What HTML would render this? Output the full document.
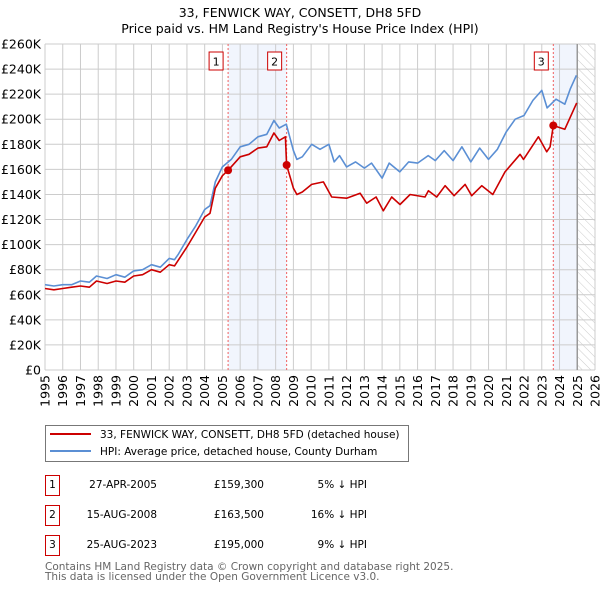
<!DOCTYPE html>
<html><head><meta charset="utf-8"><style>
body{margin:0;background:#fff;font-family:"DejaVu Sans","Liberation Sans",sans-serif;}
#wrap{position:relative;width:600px;height:590px;overflow:hidden}
svg text{font-family:"DejaVu Sans","Liberation Sans",sans-serif}
</style></head><body><div id="wrap">
<svg id="c" width="600" height="590"></svg>
</div>
<script>
const hpiYears=[1995,1995.5,1996,1996.5,1997,1997.5,1997.9,1998.5,1999,1999.5,2000,2000.5,2001,2001.5,2002,2002.3,2002.5,2003,2003.5,2004,2004.3,2004.6,2005,2005.5,2006,2006.5,2007,2007.5,2007.9,2008.2,2008.6,2009,2009.2,2009.5,2010.03,2010.5,2011,2011.3,2011.6,2012,2012.5,2013,2013.4,2014,2014.4,2015,2015.5,2016,2016.6,2017,2017.5,2018,2018.5,2019,2019.5,2020,2020.5,2021,2021.5,2022,2022.5,2023,2023.3,2023.8,2024.3,2024.6,2024.95];
const hpiValues=[68,67,68,68,71,70,75,73,76,74,79,80,84,82,89,88,92,104,115,128,131,150,162,168,178,180,186,188,199,193,196,175,168,170,180,176,180,166,171,162,166,161,165,153,165,158,166,165,171,167,175,167,178,166,177,168,176,190,200,203,215,223,209,216,212,224,235];
const priceYears=[1995,1995.5,1996,1996.5,1997,1997.5,1997.9,1998.5,1999,1999.5,2000,2000.5,2001,2001.5,2002,2002.3,2003,2003.5,2004,2004.3,2004.6,2005,2005.32,2006,2006.5,2007,2007.5,2007.9,2008.2,2008.55,2008.62,2009,2009.2,2009.5,2010.03,2010.69,2011.16,2012.0,2012.76,2013.13,2013.66,2014.07,2014.54,2015.01,2015.58,2016.42,2016.61,2017.08,2017.55,2018.06,2018.68,2019.05,2019.62,2020.24,2020.93,2021.78,2021.97,2022.81,2023.28,2023.47,2023.65,2024.3,2024.97];
const priceValues=[65,64,65,66,67,66,71,69,71,70,75,76,80,78,84,83,98,110,122,125,145,155,159.3,170,172,177,178,189,183,186,163.5,145,140,142,148,150,138,137,141,133,138,127,138,132,140,138,143,138,147,139,148,139,147,140,158,172,168,186,174,178,195,192,213];
const saleYears=[2005.32,2008.62,2023.65];
const saleValues=[159.3,163.5,195];
const saleLabels=["1","2","3"];
const yTicks=[0,20,40,60,80,100,120,140,160,180,200,220,240,260];
const xTicks=[1995,1996,1997,1998,1999,2000,2001,2002,2003,2004,2005,2006,2007,2008,2009,2010,2011,2012,2013,2014,2015,2016,2017,2018,2019,2020,2021,2022,2023,2024,2025,2026];
const tableDates=["27-APR-2005","15-AUG-2008","25-AUG-2023"];
const tablePrices=["£159,300","£163,500","£195,000"];
const tableHpi=["5% ↓ HPI","16% ↓ HPI","9% ↓ HPI"];

const L=45,R=595,T=44,B=370,X0=1995,X1=2026,YM=260;
const sx=v=>L+(v-X0)/(X1-X0)*(R-L);
const sy=v=>B-v/YM*(B-T);
const NS="http://www.w3.org/2000/svg";
const svg=document.getElementById('c');
function mk(tag,at,parent){const e=document.createElementNS(NS,tag);for(const k in at)e.setAttribute(k,at[k]);(parent||svg).appendChild(e);return e;}
const defs=mk('defs',{});
const pat=mk('pattern',{id:'hatch',width:6,height:6,patternUnits:'userSpaceOnUse',patternTransform:'rotate(-45)'},defs);
mk('line',{x1:0,y1:0,x2:0,y2:6,stroke:'#ccc','stroke-width':1},pat);

let e;
e=mk('text',{x:300,y:17,'text-anchor':'middle','font-size':12.5,fill:'#000'});e.textContent='33, FENWICK WAY, CONSETT, DH8 5FD';


e=mk('text',{x:300,y:33,'text-anchor':'middle','font-size':12.5,fill:'#000'});e.textContent="Price paid vs. HM Land Registry's House Price Index (HPI)";



e=mk('rect',{x:sx(saleYears[0]),y:T,width:sx(saleYears[1])-sx(saleYears[0]),height:B-T,fill:'#eef3fc',opacity:0.8});


e=mk('rect',{x:sx(saleYears[2]),y:T,width:sx(2025)-sx(saleYears[2]),height:B-T,fill:'#eef3fc',opacity:0.8});


e=mk('rect',{x:sx(2025),y:T,width:R-sx(2025),height:B-T,fill:'url(#hatch)'});



yTicks.forEach(v=>{
 e=mk('line',{x1:L,x2:R,y1:sy(v),y2:sy(v),stroke:'#ccc','stroke-width':1});
 
 
 e=mk('text',{x:L-4,y:sy(v)+4.5,'text-anchor':'end','font-size':12.5,fill:'#000'});
 e.textContent=v===0?'£0':'£'+v+'K';
 
 
});
xTicks.forEach(v=>{
 e=mk('line',{x1:sx(v),x2:sx(v),y1:T,y2:B,stroke:'#ccc','stroke-width':1});
 
 
 e=mk('text',{x:0,y:0,'text-anchor':'end','font-size':12.5,fill:'#000',transform:`translate(${sx(v)+4.5},${B+5}) rotate(-90)`});
 e.textContent=v;
 
 
});
e=mk('line',{x1:sx(2025),x2:sx(2025),y1:T,y2:B,stroke:'#999','stroke-width':1.5});



saleYears.forEach((y,i)=>{
 e=mk('line',{x1:sx(y),x2:sx(y),y1:T,y2:B,stroke:'#f06060','stroke-width':1,'stroke-dasharray':'2,2'});
 
 
});

function path(xs,ys,col,name){
 let d=xs.map((x,i)=>(i?'L':'M')+sx(x).toFixed(1)+','+sy(ys[i]).toFixed(1)).join('');
 e=mk('path',{d:d,fill:'none',stroke:col,'stroke-width':1.6,'stroke-linejoin':'round'});
 
 
}
path(hpiYears,hpiValues,'#5b8fd4','hpi-line');
path(priceYears,priceValues,'#cc0000','price-paid-line');

saleYears.forEach((y,i)=>{
 e=mk('circle',{cx:sx(y),cy:sy(saleValues[i]),r:4,fill:'#cc0000'});
 
 
 const g=mk('g',{});
 
 
 mk('rect',{x:sx(y)-19,y:52,width:14,height:18,fill:'#fff',stroke:'#cc0000','stroke-width':1},g);
 const t=mk('text',{x:sx(y)-12,y:65.5,'text-anchor':'middle','font-size':11,fill:'#000'},g);t.textContent=saleLabels[i];
});

const lg=mk('g',{});


mk('rect',{x:45.5,y:425.5,width:363,height:36,fill:'#fff',stroke:'#777','stroke-width':1},lg);
mk('line',{x1:50,x2:91,y1:434,y2:434,stroke:'#cc0000','stroke-width':2},lg);
mk('line',{x1:50,x2:91,y1:451,y2:451,stroke:'#5b8fd4','stroke-width':2},lg);
e=mk('text',{x:100,y:438,'font-size':10.5,fill:'#000'},lg);e.textContent='33, FENWICK WAY, CONSETT, DH8 5FD (detached house)';


e=mk('text',{x:100,y:455,'font-size':10.5,fill:'#000'},lg);e.textContent='HPI: Average price, detached house, County Durham';



saleLabels.forEach((s,i)=>{
 const y=483+i*30;
 const g=mk('g',{});
 
 
 mk('rect',{x:45.5,y:y-7.5,width:14,height:20,fill:'#fff',stroke:'#cc0000','stroke-width':1},g);
 let t=mk('text',{x:52.5,y:y+5,'text-anchor':'middle','font-size':10.5,fill:'#000'},g);t.textContent=s;
 t=mk('text',{x:157,y:y+5,'text-anchor':'end','font-size':10.5,fill:'#000'},g);t.textContent=tableDates[i];
 t=mk('text',{x:264,y:y+5,'text-anchor':'end','font-size':10.5,fill:'#000'},g);t.textContent=tablePrices[i];
 t=mk('text',{x:367,y:y+5,'text-anchor':'end','font-size':10.5,fill:'#000'},g);t.textContent=tableHpi[i];
});
e=mk('text',{x:45,y:570,'font-size':10.5,fill:'#666'});e.textContent='Contains HM Land Registry data © Crown copyright and database right 2025.';


e=mk('text',{x:45,y:580,'font-size':10.5,fill:'#666'});e.textContent='This data is licensed under the Open Government Licence v3.0.';


</script></body></html>
